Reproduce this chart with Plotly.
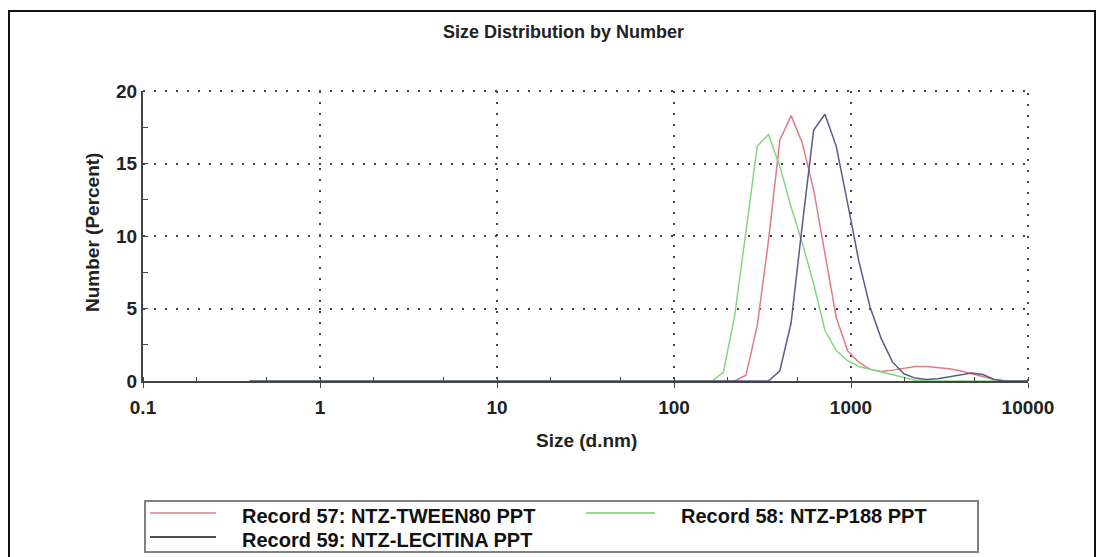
import plotly.graph_objects as go

# Size classes (d.nm)
sizes = [0.4, 0.4632, 0.5365, 0.6213, 0.7195, 0.8332, 0.9649, 1.117, 1.294, 1.499,
         1.736, 2.010, 2.328, 2.696, 3.122, 3.615, 4.187, 4.849, 5.615, 6.503,
         7.531, 8.721, 10.10, 11.70, 13.54, 15.69, 18.17, 21.04, 24.36, 28.21,
         32.67, 37.84, 43.82, 50.75, 58.77, 68.06, 78.82, 91.28, 105.7, 122.4,
         141.8, 164.2, 190.1, 220.2, 255.0, 295.3, 342.0, 396.1, 458.7, 531.2,
         615.1, 712.4, 825.0, 955.4, 1106, 1281, 1484, 1718, 1990, 2305,
         2669, 3091, 3580, 4145, 4801, 5560, 6439, 7456, 8635, 10000]

rec57_tween80 = [0, 0, 0, 0, 0, 0, 0, 0, 0, 0,
                 0, 0, 0, 0, 0, 0, 0, 0, 0, 0,
                 0, 0, 0, 0, 0, 0, 0, 0, 0, 0,
                 0, 0, 0, 0, 0, 0, 0, 0, 0, 0,
                 0, 0, 0, 0, 0.4, 3.8, 9.7, 16.6, 18.3, 16.4,
                 13.2, 8.9, 4.4, 2.1, 1.3, 0.8, 0.65, 0.75, 0.9, 1.0,
                 1.0, 0.95, 0.85, 0.7, 0.5, 0.3, 0.1, 0, 0, 0]

rec58_p188 = [0, 0, 0, 0, 0, 0, 0, 0, 0, 0,
              0, 0, 0, 0, 0, 0, 0, 0, 0, 0,
              0, 0, 0, 0, 0, 0, 0, 0, 0, 0,
              0, 0, 0, 0, 0, 0, 0, 0, 0, 0,
              0, 0, 0.6, 4.5, 10.3, 16.2, 17.0, 14.8, 12.0, 9.5,
              6.7, 3.5, 2.1, 1.4, 1.0, 0.8, 0.6, 0.4, 0.2, 0.05,
              0, 0, 0, 0, 0, 0, 0, 0, 0, 0]

rec59_lecitina = [0, 0, 0, 0, 0, 0, 0, 0, 0, 0,
                  0, 0, 0, 0, 0, 0, 0, 0, 0, 0,
                  0, 0, 0, 0, 0, 0, 0, 0, 0, 0,
                  0, 0, 0, 0, 0, 0, 0, 0, 0, 0,
                  0, 0, 0, 0, 0, 0, 0, 0.7, 4.0, 10.8,
                  17.3, 18.4, 16.2, 12.3, 8.3, 5.1, 2.9, 1.3, 0.5, 0.2,
                  0.1, 0.15, 0.3, 0.45, 0.55, 0.45, 0.1, 0, 0, 0]

series_names = ["Record 57: NTZ-TWEEN80 PPT", "Record 58: NTZ-P188 PPT", "Record 59: NTZ-LECITINA PPT"]
series_colors = ["#e07b85", "#80d880", "#5a5a8e"]
legend_colors = ["#e8a0a8", "#90dc90", "#505050"]

x_tickvals = [0.1, 1, 10, 100, 1000, 10000]
x_ticktext = ["0.1", "1", "10", "100", "1000", "10000"]
y_tickvals = [0, 5, 10, 15, 20]

FONT = "Liberation Sans, Arial, sans-serif"
W, H = 1103, 557
L, R, T, B = 143, 75, 91, 176
PW, PH = W - L - R, H - T - B
GRID = dict(color="#444", width=2, dash="2px,9px")


def px_x(p):
    return (p - L) / PW


def px_y(p):
    return (H - B - p) / PH


fig = go.Figure()
for name, vals, col in zip(series_names, [rec57_tween80, rec58_p188, rec59_lecitina], series_colors):
    fig.add_trace(go.Scatter(x=sizes, y=vals, mode="lines", name=name,
                             line=dict(color=col, width=1.5), showlegend=False))

# manual legend layout (positions in pixels): sample line x0, x1, text x, row y
legend_slots = [(150, 216, 242, 513), (586, 655, 681, 513), (150, 216, 242, 537)]

shapes = [
    dict(type="rect", xref="paper", yref="paper",
         x0=px_x(9), x1=px_x(1095), y0=px_y(570), y1=px_y(11),
         line=dict(color="#111", width=2), fillcolor="rgba(0,0,0,0)", layer="below"),
    dict(type="rect", xref="paper", yref="paper",
         x0=px_x(145), x1=px_x(978), y0=px_y(552), y1=px_y(501),
         line=dict(color="#808080", width=2), fillcolor="white", layer="below"),
    # dotted frame on top and right edges of the plot area (grid at 20 and 10000)
    dict(type="line", xref="paper", yref="paper", x0=0, x1=1, y0=1, y1=1, line=GRID, layer="below"),
    dict(type="line", xref="paper", yref="paper", x0=1, x1=1, y0=0, y1=1, line=GRID, layer="below"),
]
annotations = [
    dict(text="Size Distribution by Number", x=px_x(563), y=px_y(32), xref="paper", yref="paper",
         showarrow=False, xanchor="center", yanchor="middle",
         font=dict(family=FONT, size=18, color="#222", weight="bold")),
    dict(text="Size (d.nm)", x=px_x(586), y=px_y(440), xref="paper", yref="paper",
         showarrow=False, xanchor="center", yanchor="middle",
         font=dict(family=FONT, size=19, color="#222", weight="bold")),
    dict(text="Number (Percent)", x=px_x(92), y=px_y(233), xref="paper", yref="paper",
         showarrow=False, xanchor="center", yanchor="middle", textangle=-90,
         font=dict(family=FONT, size=19, color="#222", weight="bold")),
]
for name, col, (sx0, sx1, tx, ry) in zip(series_names, legend_colors, legend_slots):
    shapes.append(dict(type="line", xref="paper", yref="paper",
                       x0=px_x(sx0), x1=px_x(sx1), y0=px_y(ry), y1=px_y(ry),
                       line=dict(color=col, width=2)))
    annotations.append(dict(text=name, x=px_x(tx - 2), y=px_y(ry + 3), xref="paper", yref="paper",
                            showarrow=False, xanchor="left", yanchor="middle",
                            font=dict(family=FONT, size=20, color="#111", weight="bold")))

fig.update_layout(
    width=W, height=H,
    margin=dict(l=L, r=R, t=T, b=B, pad=0),
    paper_bgcolor="white", plot_bgcolor="white",
    font=dict(family=FONT, color="#222"),
    showlegend=False,
    xaxis=dict(type="log", range=[-1, 4], tickvals=x_tickvals, ticktext=x_ticktext,
               showgrid=True, gridcolor="#444", gridwidth=2, griddash="2px,9px",
               showline=True, linecolor="#444", linewidth=2,
               ticks="outside", ticklen=5, tickcolor="#444", tickwidth=1,
               ticklabelstandoff=3,
               tickfont=dict(family=FONT, size=19, color="#222", weight="bold"),
               minor=dict(ticks="inside", ticklen=4, tickcolor="#444", showgrid=False),
               zeroline=False),
    yaxis=dict(range=[0, 20], tickvals=y_tickvals,
               showgrid=True, gridcolor="#444", gridwidth=2, griddash="2px,9px",
               showline=True, linecolor="#444", linewidth=2,
               ticks="inside", ticklen=5, tickcolor="#444", tickwidth=1,
               tickfont=dict(family=FONT, size=19, color="#222", weight="bold"),
               minor=dict(ticks="inside", ticklen=5, dtick=2.5, tickcolor="#444", showgrid=False),
               zeroline=False),
    annotations=annotations,
    shapes=shapes,
)

fig.write_html("out.html")
